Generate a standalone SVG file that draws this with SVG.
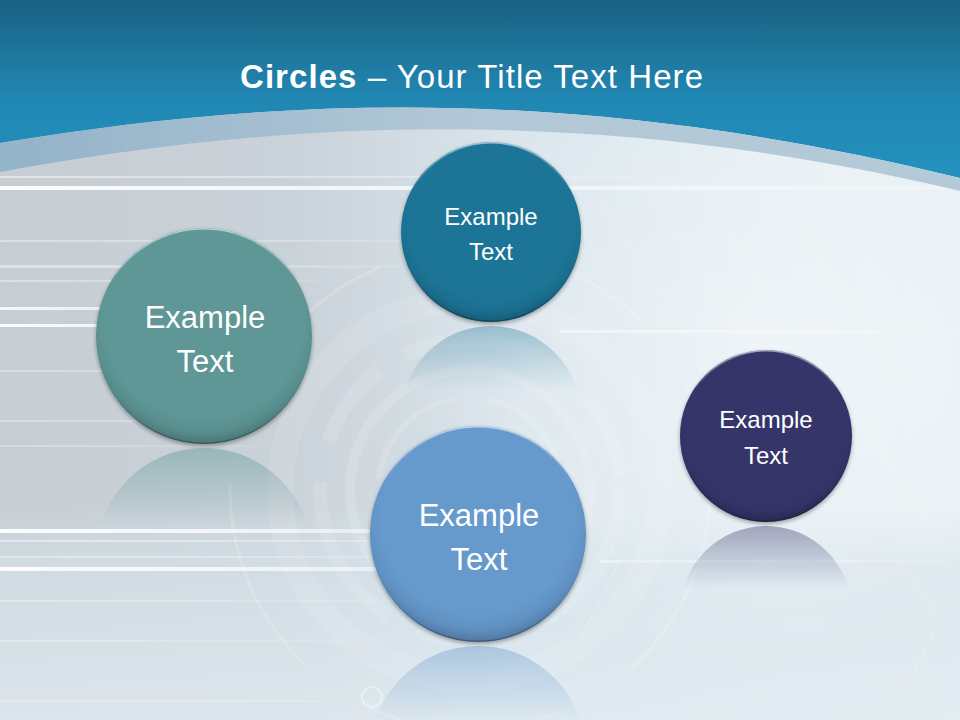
<svg xmlns="http://www.w3.org/2000/svg" width="960" height="720" viewBox="0 0 960 720">
  <defs>
    <linearGradient id="hdr" x1="0" y1="0" x2="0" y2="1">
      <stop offset="0" stop-color="#1a6182"/>
      <stop offset="0.55" stop-color="#2187b3"/>
      <stop offset="1" stop-color="#2391be"/>
    </linearGradient>
    <linearGradient id="bgH" x1="0" y1="0" x2="1" y2="0">
      <stop offset="0" stop-color="#c6cdd3"/>
      <stop offset="0.3" stop-color="#cad2d9"/>
      <stop offset="0.55" stop-color="#dbe6ed"/>
      <stop offset="0.8" stop-color="#e6eff4"/>
      <stop offset="1" stop-color="#e9f1f5"/>
    </linearGradient>
    <linearGradient id="bgV" x1="0" y1="0" x2="0" y2="1">
      <stop offset="0" stop-color="#dbe7ee" stop-opacity="0"/>
      <stop offset="0.7" stop-color="#dbe7ee" stop-opacity="0"/>
      <stop offset="0.78" stop-color="#d6e3eb" stop-opacity="0.6"/>
      <stop offset="1" stop-color="#e1ebf1" stop-opacity="0.8"/>
    </linearGradient>
    <radialGradient id="glow" cx="0.5" cy="0.5" r="0.5">
      <stop offset="0" stop-color="#ffffff" stop-opacity="0.35"/>
      <stop offset="1" stop-color="#ffffff" stop-opacity="0"/>
    </radialGradient>
    <linearGradient id="band" x1="0" y1="0" x2="1" y2="0">
      <stop offset="0" stop-color="#93b3c9"/>
      <stop offset="0.5" stop-color="#b3c8d6"/>
      <stop offset="1" stop-color="#b4cad9"/>
    </linearGradient>
    <linearGradient id="streak" x1="0" y1="0" x2="1" y2="0">
      <stop offset="0" stop-color="#ffffff" stop-opacity="0.95"/>
      <stop offset="0.5" stop-color="#ffffff" stop-opacity="0.7"/>
      <stop offset="1" stop-color="#ffffff" stop-opacity="0.15"/>
    </linearGradient>
    <radialGradient id="shade" cx="0.5" cy="0.42" r="0.58">
      <stop offset="0.78" stop-color="#000" stop-opacity="0"/>
      <stop offset="0.9" stop-color="#000" stop-opacity="0.06"/>
      <stop offset="1" stop-color="#000" stop-opacity="0.22"/>
    </radialGradient>
    <linearGradient id="rim" x1="0" y1="0" x2="0" y2="1">
      <stop offset="0" stop-color="#ffffff" stop-opacity="0.55"/>
      <stop offset="0.25" stop-color="#ffffff" stop-opacity="0"/>
      <stop offset="0.8" stop-color="#000000" stop-opacity="0"/>
      <stop offset="1" stop-color="#000000" stop-opacity="0.25"/>
    </linearGradient>
    <linearGradient id="refTeal" x1="0" y1="0" x2="0" y2="1">
      <stop offset="0" stop-color="#5f9797" stop-opacity="0.45"/>
      <stop offset="0.36" stop-color="#5f9797" stop-opacity="0"/>
    </linearGradient>
    <linearGradient id="refBlue" x1="0" y1="0" x2="0" y2="1">
      <stop offset="0" stop-color="#1f7497" stop-opacity="0.35"/>
      <stop offset="0.36" stop-color="#1f7497" stop-opacity="0"/>
    </linearGradient>
    <linearGradient id="refLight" x1="0" y1="0" x2="0" y2="1">
      <stop offset="0" stop-color="#6699cc" stop-opacity="0.4"/>
      <stop offset="0.36" stop-color="#6699cc" stop-opacity="0"/>
    </linearGradient>
    <linearGradient id="refNavy" x1="0" y1="0" x2="0" y2="1">
      <stop offset="0" stop-color="#34366a" stop-opacity="0.4"/>
      <stop offset="0.36" stop-color="#34366a" stop-opacity="0"/>
    </linearGradient>
    <filter id="drop" x="-20%" y="-20%" width="140%" height="140%">
      <feGaussianBlur in="SourceAlpha" stdDeviation="2"/>
      <feOffset dy="2" result="b"/>
      <feComponentTransfer><feFuncA type="linear" slope="0.35"/></feComponentTransfer>
      <feMerge><feMergeNode/><feMergeNode in="SourceGraphic"/></feMerge>
    </filter>
    <style>
      .lbl { font-family: "Liberation Sans", Arial, sans-serif; fill: #ffffff; text-anchor: middle; }
      .ring { fill: none; stroke: #ffffff; }
      .hex { fill: none; stroke: #ffffff; stroke-opacity: 0.2; stroke-width: 1.5; }
      .st { fill: url(#streak); }
    </style>
  </defs>

  <!-- background -->
  <rect x="0" y="0" width="960" height="720" fill="url(#bgH)"/>
  <rect x="0" y="0" width="960" height="720" fill="url(#bgV)"/>
  <ellipse cx="760" cy="360" rx="360" ry="320" fill="url(#glow)"/>

  <!-- faint rings -->
  <g id="rings">
    <circle class="ring" cx="470" cy="490" r="190" stroke-width="26" stroke-opacity="0.1"/>
    <circle class="ring" cx="470" cy="490" r="150" stroke-width="14" stroke-opacity="0.12" stroke-dasharray="160 40 90 30"/>
    <circle class="ring" cx="470" cy="490" r="120" stroke-width="10" stroke-opacity="0.14"/>
    <circle class="ring" cx="470" cy="490" r="92" stroke-width="6" stroke-opacity="0.14" stroke-dasharray="120 30"/>
    <circle class="ring" cx="470" cy="490" r="240" stroke-width="3" stroke-opacity="0.18" stroke-dasharray="200 80"/>
    <circle class="ring" cx="372" cy="697" r="10" stroke-width="2" stroke-opacity="0.4"/>
  </g>

  <!-- faint hexagon lines -->
  <g id="hexlines">
    <polyline class="hex" points="620,185 700,185 760,280 700,370"/>
    <polyline class="hex" points="760,200 860,200 900,260"/>
    <line class="hex" x1="600" y1="200" x2="680" y2="320"/>
    <line class="hex" x1="640" y1="180" x2="730" y2="310"/>
    <line class="hex" x1="520" y1="140" x2="600" y2="260"/>
    <line class="hex" x1="800" y1="230" x2="900" y2="380"/>
    <polyline class="hex" points="560,470 620,560 580,640"/>
    <polyline class="hex" points="820,560 900,560 940,620 900,700"/>
    <line class="hex" x1="860" y1="420" x2="940" y2="540"/>
  </g>

  <!-- streaks -->
  <g id="streaks">
    <rect class="st" x="0" y="186" width="960" height="4"/>
    <rect class="st" x="0" y="176" width="700" height="2" opacity="0.5"/>
    <rect class="st" x="0" y="240" width="500" height="2" opacity="0.4"/>
    <rect class="st" x="0" y="265" width="400" height="3" opacity="0.5"/>
    <rect class="st" x="0" y="280" width="320" height="2" opacity="0.4"/>
    <rect class="st" x="0" y="307" width="260" height="3" opacity="0.9"/>
    <rect class="st" x="0" y="324" width="300" height="3"/>
    <rect class="st" x="0" y="370" width="300" height="2" opacity="0.35"/>
    <rect class="st" x="0" y="420" width="260" height="2" opacity="0.35"/>
    <rect class="st" x="0" y="445" width="260" height="2" opacity="0.3"/>
    <rect class="st" x="0" y="529" width="560" height="4"/>
    <rect class="st" x="0" y="540" width="560" height="2" opacity="0.5"/>
    <rect class="st" x="0" y="556" width="500" height="2" opacity="0.4"/>
    <rect class="st" x="0" y="567" width="560" height="4"/>
    <rect class="st" x="0" y="600" width="420" height="2" opacity="0.35"/>
    <rect class="st" x="0" y="640" width="400" height="2" opacity="0.3"/>
    <rect class="st" x="0" y="700" width="420" height="2" opacity="0.3"/>
    <rect class="st" x="560" y="330" width="400" height="3" opacity="0.5"/>
    <rect class="st" x="600" y="560" width="360" height="3" opacity="0.4"/>
  </g>

  <!-- header -->
  <g id="header">
    <path d="M0,0 H960 V178 C560,80 260,100 0,143 Z" fill="url(#hdr)"/>
    <path d="M0,143 C260,100 560,80 960,178 V191 C580,100 260,124 0,172 Z" fill="url(#band)"/>
    <text x="240" y="88" textLength="463" lengthAdjust="spacing" style="font-family: 'Liberation Sans', Arial, sans-serif; font-size: 33px; fill: #ffffff;"><tspan font-weight="bold">Circles</tspan> – Your Title Text Here</text>
  </g>

  <!-- reflections -->
  <g id="reflections">
    <circle cx="204" cy="556" r="108" fill="url(#refTeal)"/>
    <circle cx="491" cy="416" r="90" fill="url(#refBlue)"/>
    <circle cx="478" cy="754" r="108" fill="url(#refLight)"/>
    <circle cx="766" cy="612" r="86" fill="url(#refNavy)"/>
  </g>

  <!-- nodes -->
  <g id="node-teal">
    <circle cx="204" cy="336" r="108" fill="#5f9797" filter="url(#drop)"/>
    <circle cx="204" cy="336" r="108" fill="url(#shade)"/>
    <circle cx="204" cy="336" r="107.3" fill="none" stroke="url(#rim)" stroke-width="1.5"/>
    <text class="lbl" x="205" y="328" font-size="31">Example</text>
    <text class="lbl" x="205" y="372" font-size="31">Text</text>
  </g>
  <g id="node-blue">
    <circle cx="491" cy="232" r="90" fill="#1f7497" filter="url(#drop)"/>
    <circle cx="491" cy="232" r="90" fill="url(#shade)"/>
    <circle cx="491" cy="232" r="89.3" fill="none" stroke="url(#rim)" stroke-width="1.5"/>
    <text class="lbl" x="491" y="225" font-size="24">Example</text>
    <text class="lbl" x="491" y="260" font-size="24">Text</text>
  </g>
  <g id="node-lightblue">
    <circle cx="478" cy="534" r="108" fill="#6699cc" filter="url(#drop)"/>
    <circle cx="478" cy="534" r="108" fill="url(#shade)"/>
    <circle cx="478" cy="534" r="107.3" fill="none" stroke="url(#rim)" stroke-width="1.5"/>
    <text class="lbl" x="479" y="526" font-size="31">Example</text>
    <text class="lbl" x="479" y="570" font-size="31">Text</text>
  </g>
  <g id="node-navy">
    <circle cx="766" cy="436" r="86" fill="#34366a" filter="url(#drop)"/>
    <circle cx="766" cy="436" r="86" fill="url(#shade)"/>
    <circle cx="766" cy="436" r="85.3" fill="none" stroke="url(#rim)" stroke-width="1.5"/>
    <text class="lbl" x="766" y="428" font-size="24">Example</text>
    <text class="lbl" x="766" y="464" font-size="24">Text</text>
  </g>
</svg>
